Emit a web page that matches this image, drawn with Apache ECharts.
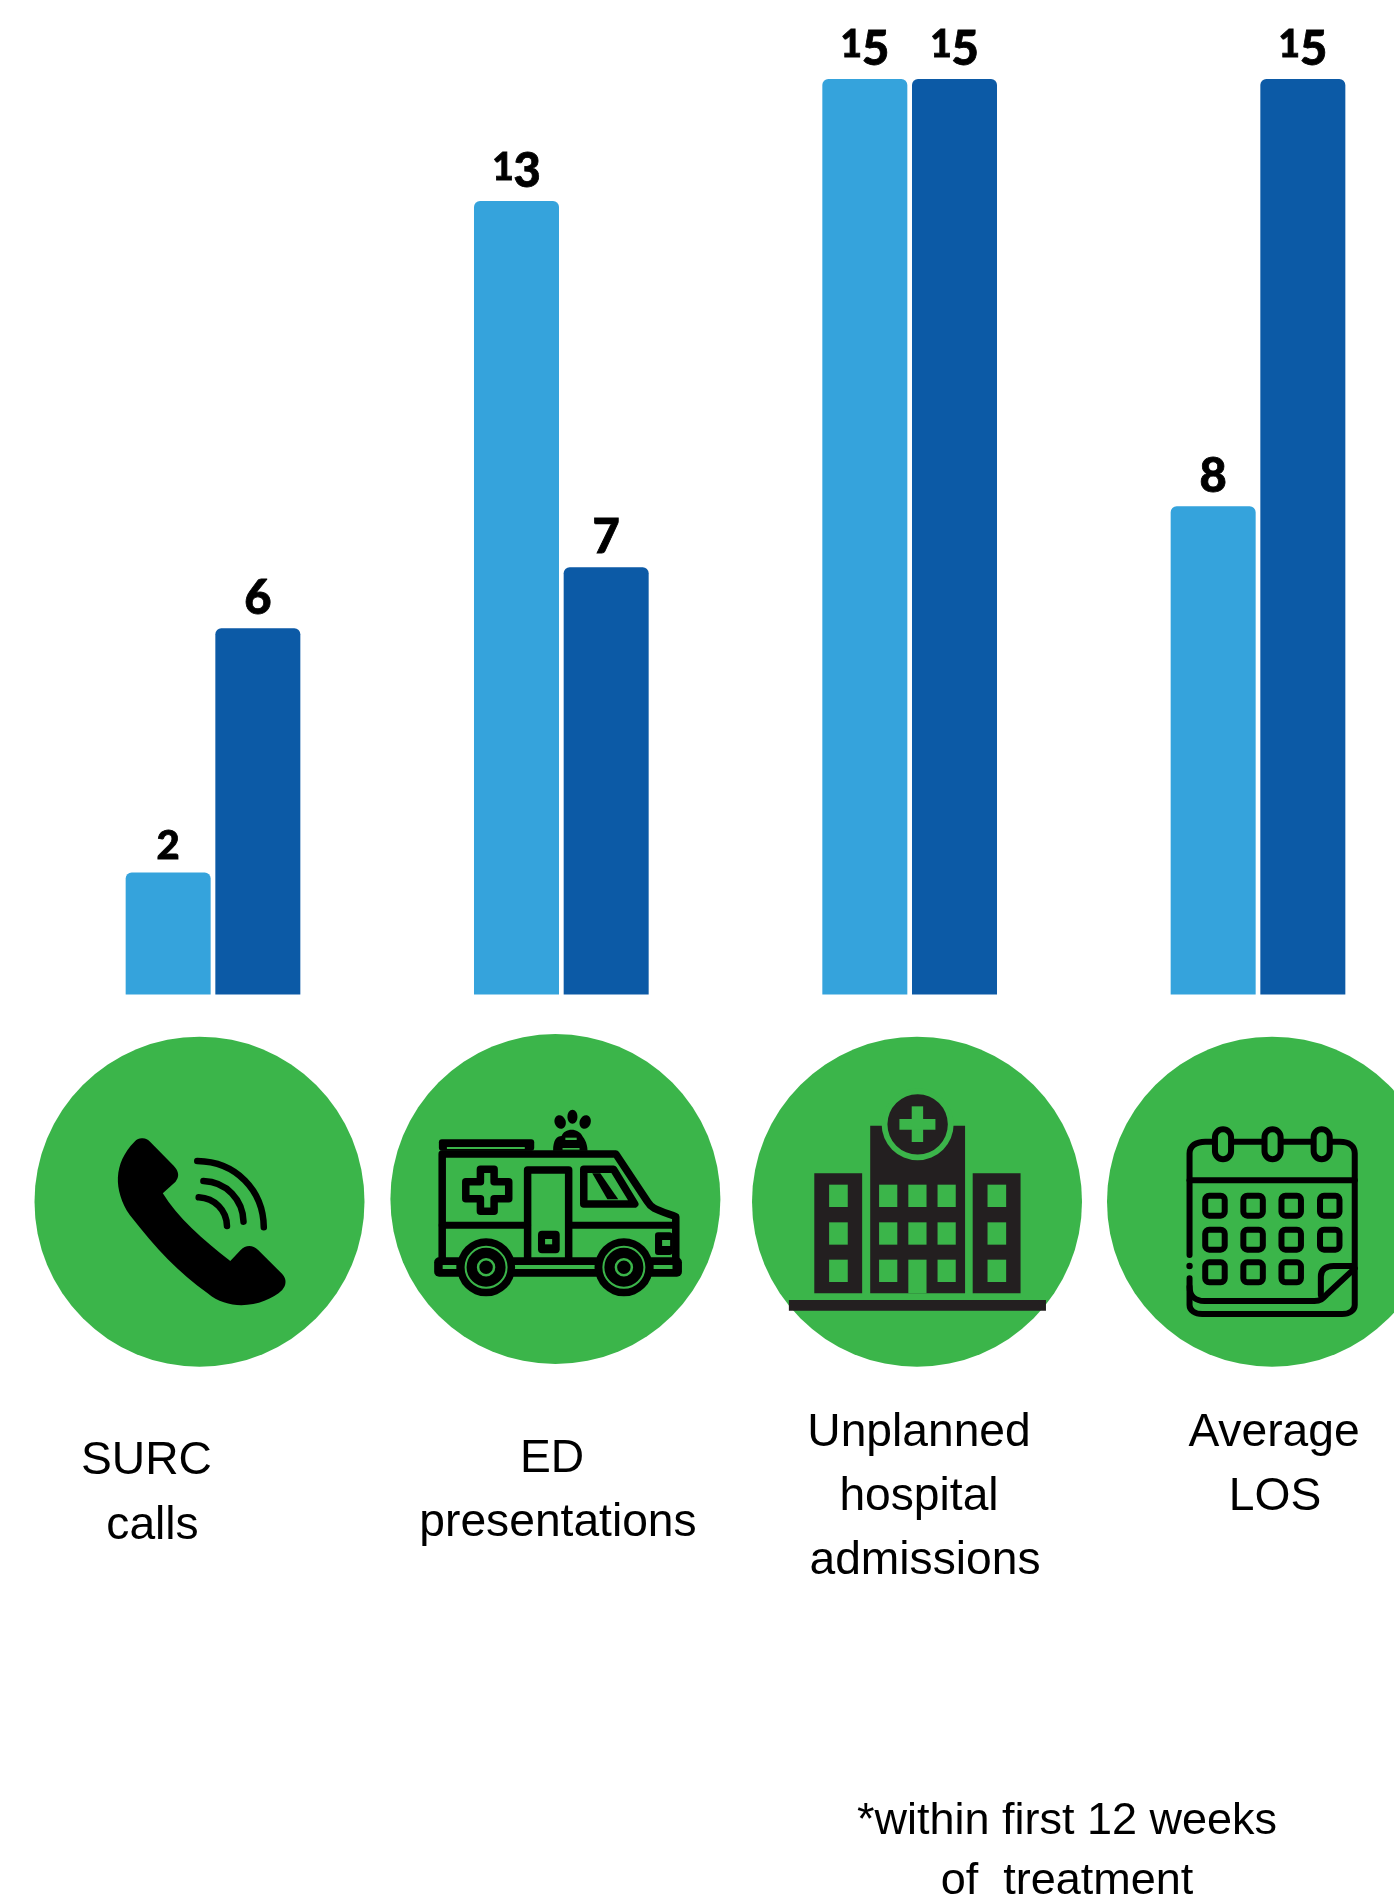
<!DOCTYPE html>
<html><head><meta charset="utf-8">
<style>html,body{margin:0;padding:0;background:#fff}#c{width:1394px;height:1897px}</style>
<script src="https://cdn.jsdelivr.net/npm/echarts@6/dist/echarts.min.js"></script>
</head><body><div id="c"></div>
<script>
const categories = ['SURC calls', 'ED presentations', 'Unplanned hospital admissions', 'Average LOS'];
const seriesLight = [2, 13, 15, 8];
const seriesDark = [6, 7, 15, 15];
const LIGHT = '#35A3DC', DARK = '#0C5AA6', GREEN = '#3BB54A', BLK = '#000', HOSP = '#231F20';

const captionLines = [['SURC', 146.5, 1461], ['calls', 152.5, 1526], ['ED', 552, 1459], ['presentations', 558, 1523],
  ['Unplanned', 919, 1433], ['hospital', 919, 1497], ['admissions', 925, 1561], ['Average', 1274, 1433], ['LOS', 1275, 1497]];
const footnoteLines = [['*within first 12 weeks', 1067, 1822], ['of  treatment', 1067, 1882]];

const g = [];
const circleCenters = [[199.5, 1201.7], [555.4, 1199], [917, 1201.7], [1272, 1201.7]];
circleCenters.forEach(c => g.push({type:'circle', shape:{cx:c[0], cy:c[1], r:165}, style:{fill:GREEN}}));

let pathId = 0;
function shapeOf(d) {
  const name = 'iconPath' + (pathId++);
  echarts.graphic.registerShape(name, echarts.graphic.extendPath(d, {}));
  return name;
}
function mapper(kx, ox) {
  const X = v => ox + v / kx, Y = v => 1000 + v / 3;
  const path = (d) => { let i = 0; return d.replace(/-?\d+(\.\d+)?/g, n => (i++ % 2 === 0 ? X(+n) : Y(+n)).toFixed(2)); };
  return {
    X, Y,
    stroke(d, w, color, extra) { g.push({type:shapeOf(path(d)), style:Object.assign({fill:'none', stroke:color||BLK, lineWidth:w, lineCap:'round', lineJoin:'round'}, extra||{})}); },
    fill(d, color) { g.push({type:shapeOf(path(d)), style:{fill:color||BLK}}); },
    rect(x0, y0, x1, y1, color, r) { g.push({type:'rect', shape:{x:X(x0), y:Y(y0), width:(x1-x0)/kx, height:(y1-y0)/3, r:r||0}, style:{fill:color}}); },
    srect(x0, y0, x1, y1, w, r, fill) { g.push({type:'rect', shape:{x:X(x0), y:Y(y0), width:(x1-x0)/kx, height:(y1-y0)/3, r:r||0}, style:{fill:fill||'none', stroke:BLK, lineWidth:w}}); },
    ell(cx, cy, rx, ry, color, rot) { g.push({type:'ellipse', shape:{cx:0, cy:0, rx:rx, ry:ry}, x:X(cx), y:Y(cy), rotation:rot||0, style:{fill:color||BLK}}); },
    circ(cx, cy, r, color) { g.push({type:'circle', shape:{cx:X(cx), cy:Y(cy), r:r}, style:{fill:color}}); },
    ring(cx, cy, r, w, color) { g.push({type:'circle', shape:{cx:X(cx), cy:Y(cy), r:r}, style:{fill:'none', stroke:color, lineWidth:w}}); }
  };
}

/* phone */
let m = mapper(2.119, 0);
m.fill('M300 415 C308 414 313 418 318 425 L368 497 C380 515 380 530 372 545 L345 580 C375 650 430 720 488 783 L510 750 C520 735 535 733 547 750 L598 822 C608 838 607 855 598 870 C565 915 490 940 440 880 C380 820 330 745 275 645 C240 570 240 490 285 425 C290 417 295 415 300 415 Z');
m.stroke('M418 483 C500 485 558 570 559 682', 6.5);
m.stroke('M431 543 C480 545 515 600 516 665', 6.5);
m.stroke('M421 592 C455 595 480 630 481 678', 6.5);

/* ambulance */
m.rect(930, 418, 1132, 452, BLK, 3);
m.rect(947, 441, 1112, 447, GREEN);
m.fill('M1172 452 C1172 420 1180 408 1190 408 C1195 385 1225 380 1235 410 C1243 425 1245 440 1245 452 Z');
m.rect(1198, 413, 1222, 420, GREEN);
m.rect(1192, 444, 1228, 449, GREEN);
m.ell(1187, 366, 5.5, 7, BLK, 0.35);
m.ell(1213, 350, 5, 7, BLK, 0);
m.ell(1240, 366, 5.5, 7, BLK, -0.35);
m.stroke('M937 775 L937 462 L1305 462 L1372 605 C1380 625 1390 628 1432 650 L1432 775', 7.5);
m.stroke('M1018 508 L1047 508 L1047 545 L1078 545 L1078 596 L1047 596 L1047 634 L1018 634 L1018 596 L987 596 L987 545 L1018 545 Z', 7.5);
m.stroke('M1118 775 L1118 510 L1205 510 L1205 775', 7.5);
m.stroke('M937 676 L1118 676 M1205 676 L1425 676', 7);
m.stroke('M1237 508 L1300 508 L1345 612 L1237 612 Z', 7.5);
m.fill('M1255 520 L1272 520 L1310 598 L1287 598 Z');
m.rect(1140, 692, 1186, 760, BLK, 4);
m.rect(1155, 717, 1170, 733, GREEN);
m.rect(1388, 697, 1425, 765, BLK, 3);
m.rect(1403, 720, 1420, 738, GREEN);
m.rect(920, 772, 1445, 830, BLK, 5);
m.rect(938, 795, 967, 807, GREEN);
m.rect(1090, 795, 1260, 807, GREEN);
m.rect(1385, 795, 1425, 807, GREEN);
[1030, 1322].forEach(cx => {
  m.circ(cx, 802, 29, BLK);
  m.ring(cx, 802, 20.5, 2, GREEN);
  m.ring(cx, 802, 8, 2.5, GREEN);
});

/* hospital */
m = mapper(2.361, 730);
m.rect(199, 520, 312, 880, HOSP);
m.rect(573, 520, 686, 880, HOSP);
m.rect(331, 377, 555, 880, HOSP);
m.rect(139, 900, 746, 932, HOSP);
[[234,278],[608,652]].forEach(x => [[554,621],[667,734],[779,846]].forEach(y => m.rect(x[0], y[0], x[1], y[1], GREEN)));
[[352,395],[421,464],[490,533]].forEach(x => [[554,621],[667,734]].forEach(y => m.rect(x[0], y[0], x[1], y[1], GREEN)));
m.rect(352, 779, 395, 846, GREEN);
m.rect(490, 779, 533, 846, GREEN);
m.rect(421, 779, 464, 880, GREEN);
m.circ(443, 373, 36, GREEN);
m.circ(443, 373, 30.2, HOSP);
m.rect(429, 319, 456, 426, GREEN);
m.rect(400, 357, 485, 389, GREEN);

/* calendar */
m.stroke('M1085 765 L1085 460 C1085 438 1100 425 1122 425 L1440 425 C1462 425 1475 438 1475 460 L1475 915 C1475 932 1462 942 1445 942 L1115 942 C1098 942 1085 932 1085 915 L1085 835', 6);
m.stroke('M1085 541 L1475 541', 6);
m.stroke('M1085 860 C1085 890 1100 903 1120 903 L1380 903 C1395 903 1400 895 1410 882 L1475 805', 6);
m.stroke('M1395 885 L1395 830 C1395 810 1405 798 1425 798 L1470 798', 6);
m.circ(1085, 798, 3.2, BLK);
[1164, 1281, 1397].forEach(x => m.srect(x - 19, 388, x + 19, 478, 6, 8, GREEN));
[[617,[1145,1235,1325,1416]], [719,[1145,1235,1325,1416]], [817,[1145,1235,1325]]].forEach(row =>
  row[1].forEach(x => m.srect(x - 23, row[0] - 30, x + 23, row[0] + 30, 6, 4)));

/* captions */
captionLines.forEach(l => g.push({type:'text', x:l[1], y:l[2], style:{text:l[0], fill:'#000', font:'46.2px "Liberation Sans"', textAlign:'center', textVerticalAlign:'middle'}}));
footnoteLines.forEach(l => g.push({type:'text', x:l[1], y:l[2], style:{text:l[0], fill:'#000', font:'45px "Liberation Sans"', textAlign:'center', textVerticalAlign:'middle'}}));

const ink = {fontFamily:'Lato', fontWeight:900, color:'#000', textBorderColor:'#000', textBorderWidth:0.8};
const big = Object.assign({}, ink, {fontSize:47, lineHeight:46, verticalAlign:'bottom'});
const small = Object.assign({}, ink, {fontSize:37, lineHeight:38, verticalAlign:'top'});
function fmt(p) {
  const s = String(p.value);
  return s.split('').map(d => (d === '1' ? '{s|1}' : d === '2' ? '{t|2}' : '{b|' + d + '}')).join('');
}
const barLabel = {show:true, position:'top', distance:6, formatter:fmt,
  rich:{b:big, s:small, t:Object.assign({}, small, {fontSize:40, verticalAlign:'bottom'})}};

const chart = echarts.init(document.getElementById('c'), null, {renderer:'canvas'});
chart.setOption({
  animation:false,
  backgroundColor:'#fff',
  grid:{left:213, top:79, width:1045, height:915.6, containLabel:false},
  xAxis:{type:'category', boundaryGap:false, data:categories, show:false},
  yAxis:{type:'value', min:0, max:15, show:false},
  series:[
    {type:'bar', name:'Light', clip:false, data:seriesLight, barWidth:85, barGap:'5.5%', itemStyle:{color:LIGHT, borderRadius:[6,6,0,0]}, label:barLabel},
    {type:'bar', name:'Dark', clip:false, data:seriesDark, barWidth:85, itemStyle:{color:DARK, borderRadius:[6,6,0,0]}, label:barLabel}
  ],
  graphic:{elements:g}
});
</script></body></html>
